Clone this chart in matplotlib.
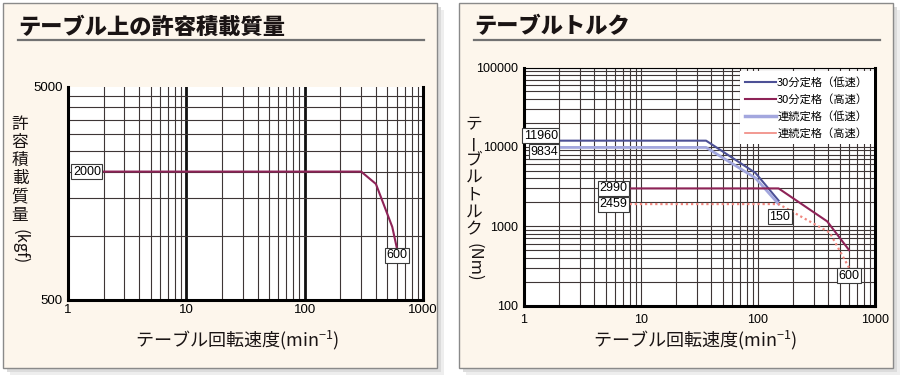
import numpy as np
import matplotlib
matplotlib.use('Agg')
import matplotlib.pyplot as plt
from matplotlib.patches import Rectangle
from matplotlib.lines import Line2D
from matplotlib.ticker import FixedLocator, LogLocator, NullFormatter

plt.rcParams['font.family'] = ['Noto Sans CJK JP', 'DejaVu Sans']

# テーブル上の許容積載質量
load_rpm = [2, 300, 400, 550, 600]
load_kgf = [2000, 2000, 1750, 1100, 880]

# テーブルトルク
low30_rpm = [2, 36, 95, 150]
low30_nm = [11960, 11960, 4700, 2100]
high30_rpm = [8, 150, 390, 600]
high30_nm = [2990, 2990, 1150, 500]
lowc_rpm = [2, 36, 95, 150]
lowc_nm = [9834, 9834, 4050, 1900]
highc_rpm = [8, 150, 410, 600]
highc_nm = [1900, 1900, 830, 300]

legend_labels = ['30分定格（低速）', '30分定格（高速）', '連続定格（低速）', '連続定格（高速）']
x_ticks = [1, 10, 100, 1000]
x_ticklabels = ['1', '10', '100', '1000']

c_low30 = '#4d5196'
c_high30 = '#8e2357'
c_lowc = '#a3a7de'
c_highc = '#f0877f'
grid_c = '#3e3636'
cream = '#fdf6ec'

W, H = 900, 376


def fx(x):
    return x / W


def fy(y):
    return 1 - y / H


fig = plt.figure(figsize=(9, 3.76), dpi=100)

# panels
for x0, x1, title in [(3, 437, 'テーブル上の許容積載質量'), (459, 893, 'テーブルトルク')]:
    for off, col in [(7, '#eeeeee'), (4, '#dcdcdc')]:
        fig.patches.append(Rectangle((fx(x0 + off), fy(368 + off)), fx(x1 - x0), (368 - 3) / H,
                                     transform=fig.transFigure, facecolor=col, edgecolor='none',
                                     zorder=-3))
    fig.patches.append(Rectangle((fx(x0), fy(368)), fx(x1 - x0), (368 - 3) / H,
                                 transform=fig.transFigure, facecolor=cream, edgecolor='#8a8a8a',
                                 lw=1, zorder=-2))
    fig.text(fx(x0 + 15), fy(27), title, fontsize=16, fontweight='black', color='#1a1414',
             ha='left', va='center')
    fig.add_artist(Line2D([fx(x0 + 15), fx(x1 - 13)], [fy(40), fy(40)], color='#727272', lw=1.6))


def vlabel(x, y0, step, chars, tail, tail_y, size):
    for i, ch in enumerate(chars):
        rot = 90 if ch == 'ー' else 0
        fig.text(fx(x), fy(y0 + i * step), ch, ha='center', va='center', fontsize=size,
                 rotation=rot, color='#1a1414')
    fig.text(fx(x), fy(tail_y), tail, ha='center', va='center', fontsize=size,
             rotation=-90, color='#1a1414')


box = dict(boxstyle='square,pad=0.12', facecolor='white', edgecolor='#3a3a3a', lw=0.8)


def tag(ax, x, y, text, dx, dy, ha):
    ax.annotate(text, (x, y), xytext=(dx, dy), textcoords='offset points', ha=ha, va='center',
                fontsize=9, fontfamily='Liberation Sans', bbox=box, zorder=6)


# ---- left chart ----
ax1 = fig.add_axes([fx(68), fy(300), fx(423) - fx(68), fy(86.7) - fy(300)])
ax1.set_xscale('log')
ax1.set_yscale('log')
ax1.set_xlim(1, 1000)
ax1.set_ylim(500, 5000)
ax1.set_xticks(x_ticks)
ax1.set_xticklabels(x_ticklabels)
ax1.xaxis.set_minor_locator(LogLocator(base=10, subs=np.arange(2, 10)))
ax1.xaxis.set_minor_formatter(NullFormatter())
ax1.set_yticks([500, 5000])
ax1.set_yticklabels(['500', '5000'])
ax1.yaxis.set_minor_locator(FixedLocator([1000, 1500, 2000, 2500, 3000, 3500, 4000, 4500]))
ax1.yaxis.set_minor_formatter(NullFormatter())
ax1.grid(True, axis='x', which='major', color='#111', lw=2.0)
ax1.grid(True, axis='x', which='minor', color=grid_c, lw=0.8)
ax1.grid(True, axis='y', which='minor', color=grid_c, lw=0.8)
ax1.spines['top'].set_visible(False)
for s in ['left', 'bottom', 'right']:
    ax1.spines[s].set_linewidth(2.2)
ax1.tick_params(which='both', length=0, labelsize=9.5, labelfontfamily='Liberation Sans')
ax1.tick_params(axis='x', pad=3)
ax1.tick_params(axis='y', pad=4)
ax1.plot(load_rpm, load_kgf, color=c_high30, lw=1.5, zorder=4)
tag(ax1, load_rpm[0], load_kgf[0], '2000', -2, 0, 'right')
tag(ax1, load_rpm[-1], load_kgf[-1], '600', 0, -5.5, 'center')

vlabel(20, 124, 18.3, '許容積載質量', '(kgf)', 247, 12)
fig.text(fx(237), fy(340), 'テーブル回転速度(min$^{\\mathregular{-1}}$)', fontsize=13,
         ha='center', va='center', color='#1a1414')

# ---- right chart ----
ax2 = fig.add_axes([fx(524), fy(305.5), fx(875) - fx(524), fy(67.5) - fy(305.5)])
ax2.set_xscale('log')
ax2.set_yscale('log')
ax2.set_xlim(1, 1000)
ax2.set_ylim(100, 100000)
ax2.set_xticks(x_ticks)
ax2.set_xticklabels(x_ticklabels)
ax2.xaxis.set_minor_locator(LogLocator(base=10, subs=np.arange(2, 10)))
ax2.xaxis.set_minor_formatter(NullFormatter())
ax2.set_yticks([100, 1000, 10000, 100000])
ax2.set_yticklabels(['100', '1000', '10000', '100000'])
ax2.yaxis.set_minor_locator(LogLocator(base=10, subs=np.arange(2, 10)))
ax2.yaxis.set_minor_formatter(NullFormatter())
ax2.grid(True, which='both', color=grid_c, lw=0.8)
for s in ['left', 'bottom', 'right']:
    ax2.spines[s].set_linewidth(2.2)
ax2.spines['top'].set_linewidth(0.8)
ax2.tick_params(which='both', length=0, labelsize=9, labelfontfamily='Liberation Sans')
ax2.tick_params(axis='x', pad=6)
ax2.tick_params(axis='y', pad=4)

ax2.plot(low30_rpm, low30_nm, color=c_low30, lw=1.5, zorder=4)
ax2.plot(lowc_rpm, lowc_nm, color=c_lowc, lw=2.0, zorder=4)
ax2.plot(high30_rpm, high30_nm, color=c_high30, lw=1.5, zorder=4)
ax2.plot(highc_rpm, highc_nm, color=c_highc, lw=1.6, ls=(0, (1, 1.3)), zorder=4)

tag(ax2, low30_rpm[0], low30_nm[0], '11960', -1, 3.5, 'right')
tag(ax2, lowc_rpm[0], lowc_nm[0], '9834', -1, -3, 'right')
tag(ax2, high30_rpm[0], high30_nm[0], '2990', -1.5, 0, 'right')
tag(ax2, highc_rpm[0], highc_nm[0], '2459', -1.5, 0, 'right')
tag(ax2, lowc_rpm[-1], lowc_nm[-1], '150', 1, -9, 'center')
tag(ax2, highc_rpm[-1], highc_nm[-1], '600', 0, -6, 'center')

handles = [Line2D([], [], color=c_low30, lw=1.5),
           Line2D([], [], color=c_high30, lw=1.5),
           Line2D([], [], color=c_lowc, lw=2.5),
           Line2D([], [], color=c_highc, lw=1.2)]
leg = ax2.legend(handles, legend_labels, loc='upper right', bbox_to_anchor=(0.997, 0.985),
                 fontsize=8.1, frameon=True, fancybox=False, framealpha=1, facecolor='white',
                 edgecolor='none', handlelength=2.7, handletextpad=0.15, labelspacing=0.55,
                 borderpad=0.5, borderaxespad=0)
leg.set_zorder(5)

vlabel(474, 125, 17.5, 'テーブルトルク', '(Nm)', 262, 12)
fig.text(fx(695), fy(340), 'テーブル回転速度(min$^{\\mathregular{-1}}$)', fontsize=13,
         ha='center', va='center', color='#1a1414')

fig.savefig('out.png', dpi=100, facecolor='white')
